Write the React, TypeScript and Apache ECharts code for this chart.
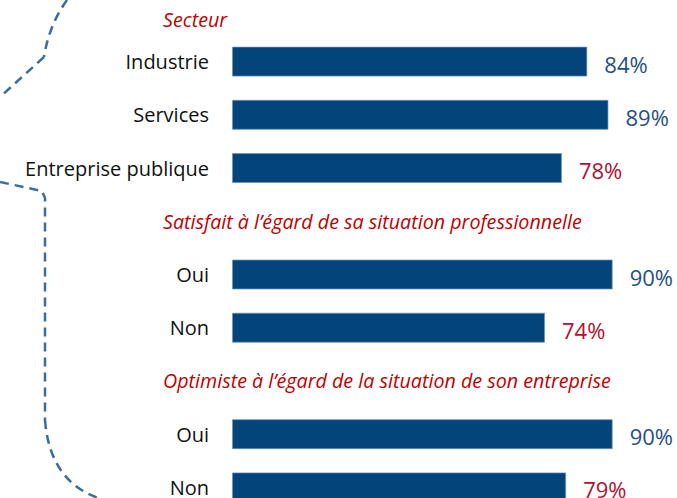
import React, { useEffect, useRef } from "react";
import * as echarts from "echarts";

const groupTitles = [
  "Secteur",
  "Satisfait à l’égard de sa situation professionnelle",
  "Optimiste à l’égard de la situation de son entreprise",
];
const groupCategories = [
  ["Industrie", "Services", "Entreprise publique"],
  ["Oui", "Non"],
  ["Oui", "Non"],
];
const groupValues = [
  [84, 89, 78],
  [90, 74],
  [90, 79],
];

const BAR = "#03457b";
const BLUE_TXT = "#1f5085";
const RED_VAL = "#b01030";
const RED_HDR = "#c00000";
const FONT = "'Open Sans', 'Noto Sans', sans-serif";

export default function App() {
  const ref = useRef<HTMLDivElement>(null);
  useEffect(() => {
    if (!ref.current) return;
    const chart = echarts.init(ref.current, null, { renderer: "svg" });

    const keys: string[] = [];
    const labels: Record<string, string> = {};
    const values: (number | null)[] = [];
    const headerKeys: string[] = [];
    groupCategories.forEach((cats, g) => {
      if (g > 0) {
        const hk = `h${g}`;
        keys.push(hk);
        labels[hk] = "";
        values.push(null);
        headerKeys.push(hk);
      }
      cats.forEach((c, i) => {
        const k = `g${g}-${i}`;
        keys.push(k);
        labels[k] = c;
        values.push(groupValues[g][i]);
      });
    });

    const gridTop = 35;
    const gridLeft = 232;

    const option: any = {
      animation: false,
      grid: {
        left: gridLeft,
        width: 423,
        top: gridTop,
        height: 479,
        outerBoundsMode: "none",
        containLabel: false,
      },
      xAxis: {
        type: "value",
        min: 0,
        max: 100,
        show: false,
        splitLine: { show: false },
      },
      yAxis: {
        type: "category",
        inverse: true,
        data: keys,
        axisLine: { show: false },
        axisTick: { show: false },
        axisLabel: {
          margin: 23,
          fontSize: 20,
          color: "#111",
          fontFamily: FONT,
          formatter: (v: string) => labels[v] ?? "",
        },
      },
      series: [
        {
          type: "bar",
          data: values,
          barWidth: 30,
          itemStyle: {
            color: BAR,
            borderColor: "rgba(110,145,185,0.7)",
            borderWidth: 1,
          },
          label: {
            show: true,
            position: "right",
            distance: 17,
            offset: [0, 2],
            fontSize: 22,
            fontFamily: FONT,
            formatter: (p: any) =>
              p.value == null ? "" : `{${p.value < 80 ? "r" : "b"}|${p.value}%}`,
            rich: {
              b: { color: BLUE_TXT, fontSize: 22, fontFamily: FONT },
              r: { color: RED_VAL, fontSize: 22, fontFamily: FONT },
            },
          },
        },
      ],
    };
    chart.setOption(option);

    const headerStyle = {
      fill: RED_HDR,
      fontSize: 19.7,
      fontStyle: "italic",
      fontFamily: FONT,
      align: "left",
      verticalAlign: "middle",
    };
    const graphics: any[] = [];
    graphics.push({
      type: "text",
      x: 163,
      y: gridTop - 16,
      style: { ...headerStyle, text: groupTitles[0] },
    });
    headerKeys.forEach((hk, i) => {
      const y = chart.convertToPixel({ yAxisIndex: 0 }, hk) as number;
      graphics.push({
        type: "text",
        x: 163,
        y,
        style: { ...headerStyle, text: groupTitles[i + 1] },
      });
    });

    const dash = {
      stroke: "#3a6c9f",
      lineWidth: 2.5,
      lineDash: [9, 6],
      fill: "none",
    };
    graphics.push(
      {
        type: "bezierCurve",
        shape: { x1: 67, y1: 0, cpx1: 49, cpy1: 25, x2: 44, y2: 57 },
        style: dash,
      },
      {
        type: "polyline",
        shape: { points: [[44, 57], [0, 97]] },
        style: dash,
      },
      {
        type: "polyline",
        shape: { points: [[0, 182], [42, 191], [45, 198], [45, 420]] },
        style: dash,
      },
      {
        type: "bezierCurve",
        shape: { x1: 45, y1: 420, cpx1: 50, cpy1: 485, x2: 105, y2: 500 },
        style: dash,
      }
    );
    chart.setOption({ graphic: graphics });

    return () => chart.dispose();
  }, []);

  return (
    <div
      ref={ref}
      style={{ position: "absolute", left: 0, top: 0, width: 677, height: 498, background: "#fff" }}
    />
  );
}
